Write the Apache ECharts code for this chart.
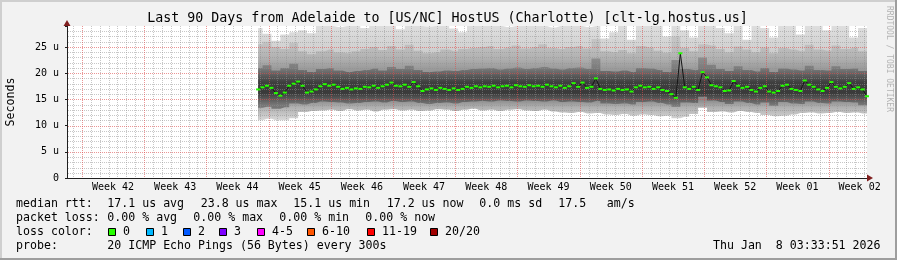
<!DOCTYPE html>
<html><head><meta charset="utf-8">
<script src="https://cdn.jsdelivr.net/npm/echarts@6/dist/echarts.min.js"></script>
<style>html,body{margin:0;padding:0;background:#f2f2f2;}#c{width:897px;height:260px;}</style>
</head><body><div id="c"></div>
<script>
// ---- data (x in days from the left edge of the 90-day window) ----
const medianStart = 21.5, medianStep = 0.5;
const medianRtt = [16.9,17.3,17.6,17.2,16.2,15.7,16.3,17.6,18.0,18.4,17.6,16.3,16.5,16.9,17.5,17.9,17.6,17.8,17.4,17.0,
17.2,16.9,17.1,17.0,17.4,17.3,17.6,17.2,17.5,17.8,18.2,17.6,17.5,17.8,17.4,18.3,17.5,16.6,16.9,17.1,
16.8,17.2,17.0,16.8,17.1,16.8,17.0,17.4,17.2,17.5,17.3,17.5,17.4,17.6,17.3,17.5,17.6,17.3,17.7,17.5,
17.4,17.7,17.5,17.6,17.4,17.8,17.5,17.3,17.6,17.2,17.5,18.1,17.4,18.2,17.2,17.4,19.0,17.0,16.8,16.9,
16.7,17.0,16.8,16.9,16.5,17.3,17.6,17.3,17.4,17.0,17.3,16.8,16.6,16.0,15.3,23.8,17.3,17.0,17.4,16.8,
20.2,19.2,17.7,17.5,17.3,16.6,16.7,18.5,17.6,17.2,17.4,16.8,16.5,17.2,17.5,16.5,16.3,16.6,17.6,17.8,
17.0,16.8,16.6,18.6,17.8,17.4,16.9,16.6,17.2,18.3,17.4,17.1,17.4,18.1,17.0,17.3,16.9,15.6];

const smokeStart = 21.5, smokeStep = 1;
const smokeLo = [11.0,11.3,11.0,11.0,11.4,12.6,12.8,12.9,13.0,12.8,13.1,12.9,13.0,12.7,13.0,13.1,12.9,13.0,12.8,12.9,
13.1,13.0,12.8,13.0,13.2,12.9,13.0,12.8,13.0,13.1,12.9,12.8,13.0,12.7,12.5,12.4,12.6,12.3,12.4,12.1,
12.0,12.2,11.9,12.1,12.0,11.8,11.9,11.4,11.7,12.2,13.4,12.6,12.7,12.5,12.8,12.6,12.4,12.0,11.8,11.9,
12.1,12.4,12.5,12.3,12.4,12.6,12.4,12.5,12.3,12.3];
const smokeQ1 = [13.4,13.6,13.2,13.5,14.2,14.0,14.3,14.6,14.5,14.4,14.2,14.3,14.5,14.6,14.4,14.7,14.5,14.6,14.3,14.1,
14.3,14.4,14.2,14.5,14.6,14.7,14.6,14.8,14.7,14.6,14.8,14.7,14.6,14.8,14.5,14.6,14.5,14.4,14.7,14.2,
14.1,14.2,14.0,14.5,14.6,14.3,14.0,13.6,14.4,14.3,15.5,14.8,14.5,14.1,14.6,14.3,14.0,14.4,13.8,14.5,
14.2,14.1,14.6,14.3,14.2,14.6,14.5,14.4,13.9,13.9];
const smokeQ3 = [21.0,21.5,20.5,21.0,21.8,20.6,20.2,20.8,21.0,20.5,20.2,20.4,20.6,20.9,20.5,21.2,20.8,21.4,20.6,20.2,
20.3,20.5,20.4,20.6,20.8,20.9,21.0,20.7,20.9,21.1,20.8,21.0,21.2,20.9,20.7,21.0,21.1,20.8,22.8,20.4,
20.3,20.5,20.2,21.0,20.9,20.6,20.2,22.5,20.8,20.6,23.0,21.6,20.8,20.4,21.3,20.6,20.3,21.0,20.2,20.9,
20.7,20.5,21.4,20.6,20.5,21.3,20.8,20.9,20.4,20.4];
const smokeP80 = [25.5,26.0,25.0,24.6,25.8,24.2,23.6,24.2,24.5,24.0,23.8,24.2,24.6,25.0,24.4,25.2,24.5,25.4,24.3,23.8,
24.0,24.5,24.2,24.6,24.8,25.0,25.2,24.6,24.9,25.3,24.7,25.0,25.5,24.8,24.6,25.0,25.2,24.7,26.5,24.2,
24.0,24.4,23.8,25.2,24.9,24.3,23.9,27.0,24.8,24.2,25.5,25.3,24.6,24.0,25.1,24.5,24.0,24.9,23.8,24.8,
24.5,24.2,25.4,24.5,24.3,25.3,24.6,24.9,24.2,24.2];
const smokeHi = [28.6,27.5,26.2,27.4,27.8,28.2,27.6,29.0,29.0,28.8,29.0,29.0,28.6,29.0,29.0,29.0,28.4,29.0,29.0,28.9,
29.0,29.0,28.5,27.8,29.0,29.0,29.0,29.0,28.8,29.0,29.0,29.0,29.0,28.7,29.0,29.0,29.0,28.8,29.0,26.6,
27.8,29.0,26.4,29.0,29.0,29.0,27.0,29.0,28.2,26.8,29.0,29.0,28.6,27.6,29.0,26.4,29.0,28.6,26.8,29.0,
29.0,27.4,29.0,29.0,28.2,29.0,29.0,26.8,28.6,28.6];

const weekStarts = [1.67,8.67,15.67,22.67,29.67,36.67,43.67,50.67,57.67,64.67,71.67,78.67,85.67];
const weekLabels = ['Week 42','Week 43','Week 44','Week 45','Week 46','Week 47','Week 48','Week 49','Week 50','Week 51','Week 52','Week 01','Week 02'];
const yMajor = [5,10,15,20,25];
const yMinor = [1,2,3,4,6,7,8,9,11,12,13,14,16,17,18,19,21,22,23,24,26,27,28];
const Y_MAX = 29, X_MAX = 90;

const titleText = 'Last 90 Days from Adelaide to [US/NC] HostUS (Charlotte) [clt-lg.hostus.us]';
const lossItems = [['0','#26ff00'],['1','#00b8ff'],['2','#0059ff'],['3','#7e00ff'],['4-5','#ff00ff'],['6-10','#ff5500'],['11-19','#ff0000'],['20/20','#a10000']];
const lossBoxX = [108,146,183,219,257,307,367,430];

// ---- build ----
const MONO = '"DejaVu Sans Mono", monospace';
const PT = 26, PB = 178, PL = 67, PR = 867;
function pts(start, step, arr){ return arr.map((v,i)=>[start + i*step, v]); }
function vgrad(stops){
  const s = stops.map(([v,c])=>({offset:(Y_MAX - v)/Y_MAX, color:c})).sort((a,b)=>a.offset-b.offset);
  return new echarts.graphic.LinearGradient(0, PT, 0, PB, s, true);
}
const weekMids = weekStarts.map(d=>d+3.5);
const dayLines = [];
for (let k = 0; k < 90; k++){ const d = Math.round((0.67 + k)*100)/100; if (weekStarts.indexOf(d) < 0) dayLines.push(d); }

function smoke(arr, fill){
  return {type:'line', data:pts(smokeStart, smokeStep, arr), step:'middle', symbol:'none', z:2, silent:true,
    animation:false, lineStyle:{width:0, opacity:0}, areaStyle:{color:fill, opacity:1}};
}

const chart = echarts.init(document.getElementById('c'), null, {renderer:'canvas'});
chart.setOption({
  backgroundColor:'#f2f2f2',
  animation:false,
  grid:{left:PL, right:897-PR, top:PT, bottom:260-PB, show:true, backgroundColor:'#ffffff', borderWidth:0},
  xAxis:{type:'value', min:0, max:X_MAX,
    axisLine:{show:true, onZero:false, lineStyle:{color:'#1f1f1f', width:1}},
    axisTick:{show:false}, splitLine:{show:false},
    axisLabel:{customValues:weekMids, margin:4, fontFamily:MONO, fontSize:10, color:'#000',
      formatter:(v)=>{ const k = Math.round((v - weekMids[0])/7); return weekLabels[k] || ''; }}},
  yAxis:{type:'value', min:0, max:Y_MAX, interval:5,
    axisLine:{show:true, lineStyle:{color:'#1f1f1f', width:1}},
    axisTick:{show:true, length:2, lineStyle:{color:'#1f1f1f'}}, splitLine:{show:false},
    axisLabel:{margin:8, fontFamily:MONO, fontSize:10, color:'#000',
      formatter:(v)=> v===0 ? '0' : (v%5===0 ? v+' u' : '')}},
  series:[
    smoke(smokeHi, vgrad([[29,'#dedede'],[25,'#d2d2d2'],[23,'#c6c6c6']])),
    smoke(smokeP80, vgrad([[26,'#c4c4c4'],[23,'#b2b2b2'],[21,'#9c9c9c'],[19,'#8a8a8a']])),
    smoke(smokeQ3, vgrad([[23,'#8e8e8e'],[21,'#7c7c7c'],[19.5,'#5a5a5a'],[18.2,'#3e3e3e'],[16.2,'#3a3a3a'],[15,'#5c5c5c'],[14,'#767676']])),
    smoke(smokeQ1, vgrad([[15,'#888888'],[13.5,'#b0b0b0'],[11,'#d8d8d8']])),
    smoke(smokeLo, '#ffffff'),
    {type:'line', data:pts(medianStart, medianStep, medianRtt), z:5, silent:true, animation:false,
      lineStyle:{color:'#141414', width:1}, symbol:'rect', symbolSize:[4,2], showSymbol:true, showAllSymbol:true,
      itemStyle:{color:'#26ff00'}}
  ]
});

// dotted grid lines drawn on top of the smoke, positioned through the chart's own axes
const MINOR = 'rgba(143,143,143,0.5)', MAJOR = 'rgba(222,79,79,0.6)';
const gridEls = [];
function vline(d, col){
  const x = Math.round(chart.convertToPixel({gridIndex:0}, [d, 0])[0]) + 0.5;
  gridEls.push({type:'line', z:3, silent:true, shape:{x1:x, y1:PT, x2:x, y2:PB}, style:{stroke:col, lineWidth:1, lineDash:[1,1]}});
}
function hline(v, col){
  const y = Math.round(chart.convertToPixel({gridIndex:0}, [0, v])[1]) + 0.5;
  gridEls.push({type:'line', z:3, silent:true, shape:{x1:PL+1, y1:y, x2:PR, y2:y}, style:{stroke:col, lineWidth:1, lineDash:[1,1]}});
}
dayLines.forEach(d=>vline(d, MINOR));
yMinor.forEach(v=>hline(v, MINOR));
weekStarts.forEach(d=>vline(d, MAJOR));
yMajor.forEach(v=>hline(v, MAJOR));

const textEls = [
  {type:'rect', shape:{x:0,y:0,width:897,height:2}, style:{fill:'#cfcfcf'}, silent:true},
  {type:'rect', shape:{x:0,y:0,width:2,height:260}, style:{fill:'#cfcfcf'}, silent:true},
  {type:'rect', shape:{x:0,y:258,width:897,height:2}, style:{fill:'#9e9e9e'}, silent:true},
  {type:'rect', shape:{x:895,y:0,width:2,height:260}, style:{fill:'#9e9e9e'}, silent:true},
  {type:'polygon', z:6, shape:{points:[[867,174.5],[873,178],[867,181.5]]}, style:{fill:'#801f1f'}, silent:true},
  {type:'polygon', z:6, shape:{points:[[63.5,26],[67,20],[70.5,26]]}, style:{fill:'#801f1f'}, silent:true},
  {type:'text', x:447.5, y:19, style:{text:titleText, font:'13.3px '+MONO, fill:'#000', align:'center', verticalAlign:'middle'}, silent:true},
  {type:'text', x:11, y:102, rotation:Math.PI/2, style:{text:'Seconds', font:'11.6px '+MONO, fill:'#000', align:'center', verticalAlign:'middle'}, silent:true},
  {type:'text', x:889, y:59, rotation:-Math.PI/2, style:{text:'RRDTOOL / TOBI OETIKER', font:'8px '+MONO, fill:'#b4b4b4', align:'center', verticalAlign:'middle'}, silent:true},
  ...[
    ['median rtt:',16,204.3],['17.1 us avg',107.3,204.3],['23.8 us max',200.7,204.3],['15.1 us min',293.3,204.3],
    ['17.2 us now',386.7,204.3],['0.0 ms sd',479.3,204.3],['17.5',558.3,204.3],['am/s',606.7,204.3],
    ['packet loss:',16,218.3],['0.00 % avg',107.3,218.3],['0.00 % max',193.3,218.3],['0.00 % min',279.3,218.3],['0.00 % now',365.3,218.3],
    ['loss color:',16,232.3],
    ['probe:',16,246.3],['20 ICMP Echo Pings (56 Bytes) every 300s',107.3,246.3]
  ].map(([t,x,y])=>({type:'text', x:x, y:y, style:{text:t, font:'11.6px '+MONO, fill:'#000', align:'left', verticalAlign:'middle'}, silent:true})),
  {type:'text', x:880.5, y:246.3, style:{text:'Thu Jan  8 03:33:51 2026', font:'11.6px '+MONO, fill:'#000', align:'right', verticalAlign:'middle'}, silent:true},
  ...lossItems.map(([lab,col],i)=>({type:'rect', shape:{x:lossBoxX[i]+0.5, y:228.5, width:7, height:7}, style:{fill:col, stroke:'#000', lineWidth:1}, silent:true})),
  ...lossItems.map(([lab,col],i)=>({type:'text', x:lossBoxX[i]+15, y:232.3, style:{text:lab, font:'11.6px '+MONO, fill:'#000', align:'left', verticalAlign:'middle'}, silent:true}))
];
chart.setOption({graphic:[...gridEls, ...textEls]});
</script></body></html>
